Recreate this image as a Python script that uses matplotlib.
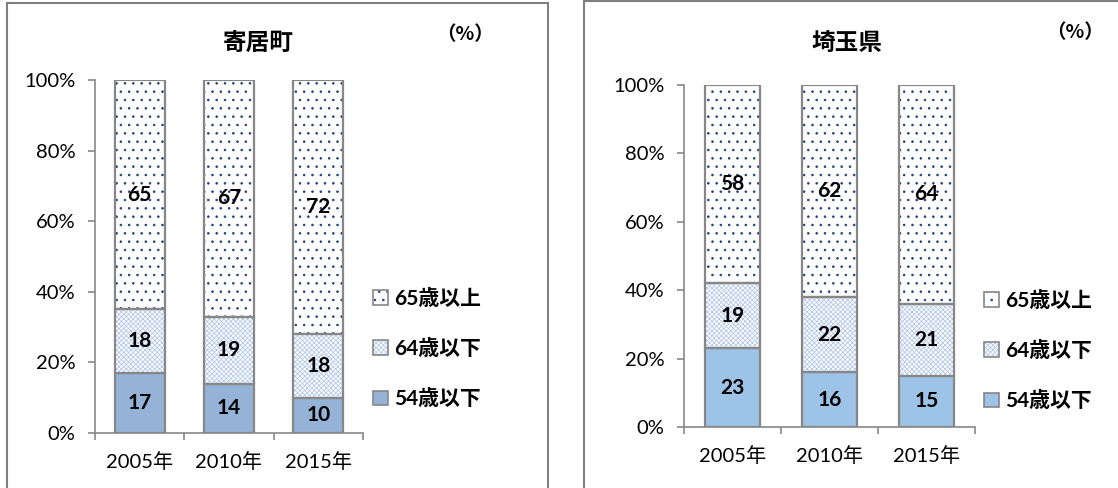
import matplotlib
matplotlib.use('Agg')
import matplotlib.pyplot as plt
from matplotlib.patches import Rectangle, Patch

plt.rcParams['font.family'] = ['Lato', 'Noto Sans CJK JP', 'DejaVu Sans']
plt.rcParams['hatch.linewidth'] = 0.6

years = ['2005年', '2010年', '2015年']
series_names = ['54歳以下', '64歳以下', '65歳以上']

yorii_54 = [17, 14, 10]
yorii_64 = [18, 19, 18]
yorii_65 = [65, 67, 72]

saitama_54 = [23, 16, 15]
saitama_64 = [19, 22, 21]
saitama_65 = [58, 62, 64]

edge = '#878787'
dot_col = '#1f3f7a'
cross_col = '#b3c8ec'


def draw_panel(ax, s54, s64, s65, base_col, leg_xy):
    x = range(len(years))
    w = 0.56
    bottom2 = [a + b for a, b in zip(s54, s64)]
    ax.bar(x, s54, w, color=base_col, edgecolor=edge, linewidth=1.6, zorder=2)
    # hatched layers, then outline on top
    ax.bar(x, s64, w, bottom=s54, color='white', edgecolor=cross_col,
           hatch='xxxxxxx', linewidth=0, zorder=2)
    ax.bar(x, s64, w, bottom=s54, fill=False, edgecolor=edge, linewidth=1.6, zorder=3)
    ax.bar(x, s65, w, bottom=bottom2, color='white', edgecolor=dot_col,
           hatch='..', linewidth=0, zorder=2)
    ax.bar(x, s65, w, bottom=bottom2, fill=False, edgecolor=edge, linewidth=1.6, zorder=3)

    for i in x:
        for bot, val in [(0, s54[i]), (s54[i], s64[i]), (bottom2[i], s65[i])]:
            ax.text(i, bot + val / 2, str(val), ha='center', va='center',
                    fontsize=15, fontweight='bold', zorder=4)

    ax.set_xlim(-0.5, 2.5)
    ax.set_ylim(0, 100)
    ax.set_yticks([0, 20, 40, 60, 80, 100])
    ax.set_yticklabels(['0%', '20%', '40%', '60%', '80%', '100%'], fontsize=14.5)
    ax.set_xticks([-0.5, 0.5, 1.5, 2.5])
    ax.set_xticklabels([])
    ax.set_xticks(list(x), minor=True)
    ax.set_xticklabels(years, minor=True, fontsize=14.5)
    ax.tick_params(axis='x', which='minor', length=0, pad=14)
    ax.tick_params(axis='both', which='major', length=5, color=edge, width=1.2)
    ax.tick_params(axis='y', pad=9)
    for s in ['top', 'right']:
        ax.spines[s].set_visible(False)
    for s in ['left', 'bottom']:
        ax.spines[s].set_color(edge)
        ax.spines[s].set_linewidth(1.2)

    handles = [
        (Patch(facecolor='white', edgecolor=dot_col, hatch='..', linewidth=0),
         Patch(fill=False, edgecolor=edge, linewidth=1.2)),
        (Patch(facecolor='white', edgecolor=cross_col, hatch='xxxxxxx', linewidth=0),
         Patch(fill=False, edgecolor=edge, linewidth=1.2)),
        Patch(facecolor=base_col, edgecolor=edge, linewidth=1.2),
    ]
    ax.legend(handles, series_names[::-1], loc='center left', bbox_to_anchor=leg_xy,
              bbox_transform=fig.transFigure, frameon=False, handlelength=0.7,
              handleheight=0.7, handletextpad=0.3, labelspacing=1.45, borderpad=0,
              prop={'weight': 'bold', 'size': 15})


fig = plt.figure(figsize=(11.18, 4.88), dpi=100)

# panel frames
fig.patches.append(Rectangle((7 / 1118, -0.05), 541 / 1118, 1.0 - 3 / 488 + 0.05,
                             transform=fig.transFigure, fill=False, edgecolor='#7f7f7f',
                             linewidth=1.5))
fig.patches.append(Rectangle((584 / 1118, -0.05), 0.6, 1.0 - 1 / 488 + 0.05,
                             transform=fig.transFigure, fill=False, edgecolor='#7f7f7f',
                             linewidth=1.5))

ax1 = fig.add_axes([95 / 1118, 55 / 488, 268 / 1118, 353 / 488])
draw_panel(ax1, yorii_54, yorii_64, yorii_65, '#95b3d7', (363 / 1118, 139 / 488))
fig.text(258 / 1118, 1 - 42 / 488, '寄居町', ha='center', va='center',
         fontsize=17, fontweight='bold')
fig.text(465 / 1118, 1 - 35 / 488, '（%）', ha='center', va='center',
         fontsize=14, fontweight='bold', family=['Noto Sans CJK JP'])

ax2 = fig.add_axes([684 / 1118, 61 / 488, 291 / 1118, 342 / 488])
draw_panel(ax2, saitama_54, saitama_64, saitama_65, '#9dc3e6', (974 / 1118, 137 / 488))
fig.text(847 / 1118, 1 - 42 / 488, '埼玉県', ha='center', va='center',
         fontsize=17, fontweight='bold')
fig.text(1075 / 1118, 1 - 33 / 488, '（%）', ha='center', va='center',
         fontsize=14, fontweight='bold', family=['Noto Sans CJK JP'])

fig.savefig('out.png', dpi=100)
